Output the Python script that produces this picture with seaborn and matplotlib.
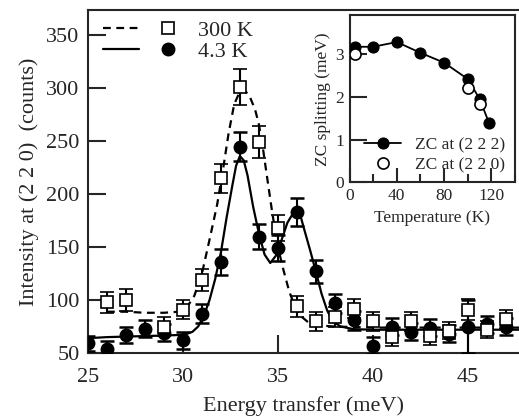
import numpy as np
import pandas as pd
import matplotlib
matplotlib.use('Agg')
import matplotlib.pyplot as plt
from matplotlib.lines import Line2D
from matplotlib.legend_handler import HandlerTuple
from matplotlib.ticker import MultipleLocator
import seaborn as sns

# 300 K data (open squares)
e_300 = [26, 27, 29, 30, 31, 32, 33, 34, 35, 36, 37, 38, 39, 40, 41, 42, 43, 44, 45, 46, 47]
i_300 = [98, 100, 75, 91, 119, 215, 301, 249, 168, 94, 80, 84, 92, 80, 65, 80, 66, 71, 91, 72, 82]
err_300 = [10, 10, 9, 9, 10, 14, 17, 15, 12, 10, 9, 9, 9, 9, 8, 9, 8, 8, 10, 8, 9]

# 4.3 K data (filled circles)
e_4k = [25, 26, 27, 28, 29, 30, 31, 32, 33, 34, 35, 36, 37, 38, 39, 40, 41, 42, 43, 44, 45, 46, 47]
i_4k = [59, 54, 67, 73, 69, 62, 87, 136, 245, 160, 149, 183, 127, 97, 81, 57, 75, 70, 74, 68, 75, 77, 75]
err_4k = [7, 7, 8, 8, 8, 8, 9, 12, 14, 12, 12, 13, 11, 9, 9, 8, 8, 8, 8, 8, 25, 8, 8]

# fit curves
fit_300_e = [26.0, 27.0, 28.0, 29.0, 29.8, 30.2, 30.6, 31.0, 31.4, 31.8, 32.1, 32.4, 32.7, 33.0,
             33.2, 33.5, 33.8, 34.0, 34.2, 34.4, 34.7, 35.0, 35.3, 35.6, 35.9, 36.2, 36.6,
             37.2, 38.0, 40.0, 42.0, 44.0, 47.7]
fit_300_i = [89, 89, 88, 88, 89, 93, 104, 125, 157, 190, 222, 257, 285, 297,
             299, 293, 280, 266, 245, 220, 183, 150, 128, 108, 94, 85, 79,
             76, 75, 74, 74, 74, 74]

fit_4k_e = [25.0, 26.0, 27.0, 28.0, 29.0, 29.8, 30.2, 30.5, 30.8, 31.1, 31.4, 31.7, 32.0, 32.3,
            32.6, 32.8, 33.0, 33.2, 33.4, 33.7, 34.0, 34.3, 34.6, 34.9, 35.2, 35.5, 35.8,
            36.0, 36.2, 36.4, 36.7, 37.0, 37.3, 37.6, 37.9, 38.3, 39.0, 40.0, 42.0, 44.0, 47.7]
fit_4k_i = [64, 65, 65.5, 66, 66.5, 67, 68, 70, 75, 85, 100, 120, 145, 178,
            208, 227, 236, 232, 218, 188, 163, 143, 135, 142, 157, 173, 182,
            183, 179, 166, 147, 127, 106, 90, 80, 75, 72.5, 72, 72, 72, 72]

# inset: ZC splitting vs temperature
t_222 = [4.3, 20, 40, 60, 80, 100, 110, 118]
zc_222 = [3.16, 3.16, 3.27, 3.02, 2.79, 2.41, 1.95, 1.39]
t_220 = [4.3, 100, 110]
zc_220 = [3.0, 2.21, 1.83]

sns.set_style('ticks')
plt.rcParams['font.family'] = ['Liberation Serif', 'DejaVu Serif']

fig = plt.figure(figsize=(5.19, 4.17), dpi=100)
ax = fig.add_axes([88 / 519, 1 - 353 / 417, 1 - 88 / 519, 343 / 417])

sns.lineplot(x=fit_300_e, y=fit_300_i, ax=ax, color='black', lw=1.6, ls=(0, (3.5, 2.5)), zorder=2)
sns.lineplot(x=fit_4k_e, y=fit_4k_i, ax=ax, color='black', lw=1.6, zorder=2)

ax.errorbar(e_4k, i_4k, yerr=err_4k, fmt='o', ms=9, mfc='black', mec='black',
            ecolor='black', elinewidth=1.5, capsize=5, capthick=1.8, zorder=3)
ax.errorbar(e_300, i_300, yerr=err_300, fmt='s', ms=9, mfc='white', mec='black', mew=1.2,
            ecolor='black', elinewidth=1.5, capsize=5, capthick=1.8, zorder=4)

ax.set_xlim(25, 47.7)
ax.set_ylim(50, 374)
ax.set_xticks([25, 30, 35, 40, 45])
ax.set_yticks([50, 100, 150, 200, 250, 300, 350])
ax.tick_params(direction='in', length=13, width=1.5, labelsize=16, pad=6)
ax.tick_params(axis='x', pad=11)
ax.spines['right'].set_visible(False)
for s in ['left', 'bottom', 'top']:
    ax.spines[s].set_linewidth(1.5)
ax.set_xlabel('Energy transfer (meV)', fontsize=16, labelpad=6)
ax.set_ylabel('Intensity at (2 2 0)  (counts)', fontsize=16, labelpad=5)

h300 = (Line2D([], [], color='black', lw=1.6, ls=(0, (3.5, 2.5))),
        Line2D([], [], ls='none', marker='s', ms=9, mfc='white', mec='black', mew=1.2))
h4k = (Line2D([], [], color='black', lw=1.6),
       Line2D([], [], ls='none', marker='o', ms=9, mfc='black', mec='black'))
ax.legend([h300, h4k], ['300 K', '4.3 K'], handler_map={tuple: HandlerTuple(ndivide=None, pad=0.5)},
          loc='upper left', bbox_to_anchor=(0.035, 0.971), frameon=False, fontsize=16,
          handlelength=3.7, handletextpad=0.55, labelspacing=0.02, borderpad=0, borderaxespad=0)

# inset
ins = fig.add_axes([349.5 / 519, 1 - 182.5 / 417, (515 - 349.5) / 519, (182.5 - 15) / 417])
sns.lineplot(x=t_222, y=zc_222, ax=ins, color='black', lw=1.3, marker='o', ms=8,
             mfc='black', mec='black', label='ZC at (2 2 2)', zorder=3)
ins.plot(t_220, zc_220, ls='none', marker='o', ms=8, mfc='white', mec='black', mew=1.2,
         label='ZC at (2 2 0)', zorder=4)
ins.set_xlim(0, 140)
ins.set_ylim(0, 3.9)
ins.xaxis.set_major_locator(MultipleLocator(40))
ins.xaxis.set_minor_locator(MultipleLocator(20))
ins.set_yticks([0, 1, 2, 3])
ins.tick_params(which='major', direction='in', length=10, width=1.5, labelsize=12.5, pad=4)
ins.tick_params(which='minor', direction='in', length=5.5, width=1.5)
ins.tick_params(axis='y', which='major', length=12)
for s in ins.spines.values():
    s.set_linewidth(1.5)
ins.set_xlabel('Temperature (K)', fontsize=12.5, labelpad=4)
ins.set_ylabel('ZC splitting (meV)', fontsize=12.5, labelpad=3)
ins.legend(loc='upper left', bbox_to_anchor=(0.09, 0.27), frameon=False, fontsize=12.5,
           handlelength=2.1, handletextpad=0.8, labelspacing=0.2, borderpad=0, borderaxespad=0)

fig.savefig('out.png', dpi=100)
